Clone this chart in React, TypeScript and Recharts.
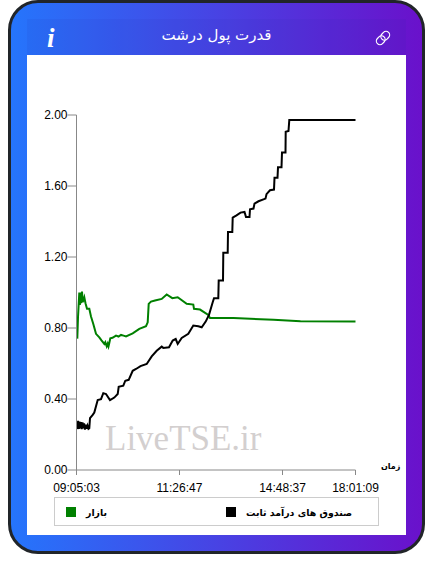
import React from "react";
import { LineChart, Line, XAxis, YAxis, Legend } from "recharts";

const title = "قدرت پول درشت";
const xAxisTitle = "زمان";
const watermark = "LiveTSE.ir";
const marketName = "بازار";
const fundName = "صندوق های درآمد ثابت";

// x axis is sample index, the time labels are not evenly spaced in time
const tickIndexes = [0, 103, 206, 279];
const tickTimes = ["09:05:03", "11:26:47", "14:48:37", "18:01:09"];
const yTicks = [0, 0.4, 0.8, 1.2, 1.6, 2];

const marketIndex = [0.8, 1.5, 2.8, 3.4, 4, 4.6, 5.5, 6.2, 6.8, 7.8, 9, 10.5, 12.8, 14.5, 16.8, 19.5, 22.8, 25, 27.8, 28.8, 30.2, 31.2, 32, 32.8, 33.8, 36, 39.5, 42, 44.5, 47, 49.5, 56.2, 62.8, 69.5, 71.2, 72.2, 74.5, 78.5, 85.2, 90.2, 95.8, 101.2, 110.2, 116.8, 117.5, 123.5, 131.8, 133.5, 143.5, 157, 197, 224, 279];
const marketValues = [0.74, 0.86, 1.0, 0.93, 1.0, 0.94, 1.005, 0.945, 0.955, 0.973, 0.94, 0.908, 0.908, 0.865, 0.823, 0.767, 0.747, 0.73, 0.71, 0.72, 0.697, 0.712, 0.697, 0.716, 0.742, 0.745, 0.757, 0.752, 0.761, 0.757, 0.753, 0.77, 0.795, 0.81, 0.832, 0.936, 0.949, 0.955, 0.964, 0.989, 0.968, 0.973, 0.936, 0.932, 0.908, 0.904, 0.874, 0.857, 0.857, 0.857, 0.846, 0.838, 0.836];

const fundIndex = [1, 1.6, 2.4, 3, 3.8, 4.5, 5.2, 6, 6.8, 7.6, 8.4, 9.2, 10, 11, 12, 12.8, 13.5, 16.2, 17.8, 21.2, 24.5, 26.8, 29.5, 33.5, 37.8, 41.2, 42.2, 46.8, 48.8, 52.2, 56.2, 59.5, 64, 70.2, 75.2, 80.2, 85.2, 86.8, 92.5, 96.2, 99.2, 101.2, 105.2, 111.8, 116.8, 121.8, 125.2, 129.2, 132.5, 136.2, 137.5, 141.8, 142.2, 146.5, 146.8, 151.2, 151.5, 155.8, 156.2, 160, 164, 168, 169.5, 173, 173.5, 177, 178, 182, 189, 190, 193.5, 197.5, 198, 201, 201.5, 205, 205.5, 209, 209.2, 212, 212.8, 279];
const fundValues = [0.23, 0.277, 0.232, 0.272, 0.235, 0.27, 0.23, 0.268, 0.235, 0.262, 0.228, 0.255, 0.232, 0.25, 0.232, 0.235, 0.292, 0.311, 0.324, 0.394, 0.399, 0.433, 0.428, 0.394, 0.408, 0.428, 0.469, 0.475, 0.503, 0.508, 0.559, 0.569, 0.585, 0.597, 0.64, 0.672, 0.695, 0.688, 0.691, 0.729, 0.738, 0.71, 0.744, 0.767, 0.814, 0.81, 0.804, 0.836, 0.874, 0.945, 0.968, 0.968, 1.068, 1.068, 1.224, 1.224, 1.341, 1.341, 1.422, 1.435, 1.45, 1.454, 1.425, 1.425, 1.469, 1.473, 1.501, 1.514, 1.529, 1.554, 1.576, 1.58, 1.646, 1.646, 1.705, 1.705, 1.789, 1.789, 1.906, 1.91, 1.972, 1.972];

const marketData = marketIndex.map((index, i) => ({ index, value: marketValues[i] }));
const fundData = fundIndex.map((index, i) => ({ index, value: fundValues[i] }));

const axisColor = "#888888";
const labelFont = "'Liberation Sans', Arial, sans-serif";
const persianFont = "'DejaVu Sans', sans-serif";

const ChartLegend = () => (
  <div
    style={{
      boxSizing: "border-box",
      width: 325,
      height: 29,
      border: "1px solid #cccccc",
      position: "relative",
      fontFamily: persianFont,
      fontSize: 9.4,
      fontWeight: "bold",
      color: "#000",
    }}
  >
    <span style={{ position: "absolute", left: 11, top: 9, width: 10, height: 10, background: "green" }} />
    <span style={{ position: "absolute", left: 31, top: 8, lineHeight: "14px" }}>{marketName}</span>
    <span style={{ position: "absolute", left: 171, top: 9, width: 10, height: 10, background: "#000" }} />
    <span style={{ position: "absolute", left: 191, top: 8, lineHeight: "14px", whiteSpace: "nowrap" }}>{fundName}</span>
  </div>
);

const LinkIcon = () => (
  <svg width="18" height="18" viewBox="0 0 24 24" fill="none" stroke="#fff" strokeWidth="1.6" style={{ position: "absolute", left: 374, top: 29 }}>
    <g transform="rotate(-45 12 12)">
      <rect x="1.5" y="7.2" width="12.5" height="9.6" rx="4.8" />
      <rect x="10" y="7.2" width="12.5" height="9.6" rx="4.8" />
    </g>
  </svg>
);

export default function App() {
  return (
    <div style={{ position: "absolute", left: 0, top: 0, width: 433, height: 574, background: "#fff", overflow: "hidden" }}>
      <div
        style={{
          position: "absolute",
          left: 8,
          top: 0,
          width: 417,
          height: 554,
          boxSizing: "border-box",
          border: "3px solid #212529",
          borderRadius: 30,
          background: "linear-gradient(to right, #2575fc, #6a11cb)",
        }}
      />
      <div style={{ position: "absolute", left: 27, top: 19, width: 379, height: 36, background: "rgba(40,40,160,0.08)" }} />
      <div style={{ position: "absolute", left: 27, top: 55, width: 379, height: 480, background: "#fff" }} />

      <div style={{ position: "absolute", left: 47, top: 23, color: "#fff", fontFamily: "'Liberation Serif', serif", fontStyle: "italic", fontWeight: "bold", fontSize: 27, lineHeight: "30px" }}>i</div>
      <div style={{ position: "absolute", left: 27, top: 24, width: 379, textAlign: "center", color: "#fff", fontFamily: persianFont, fontSize: 15, lineHeight: "22px" }}>{title}</div>
      <LinkIcon />

      <div style={{ position: "absolute", left: 105, top: 417, color: "#d3cfcf", fontFamily: "'Liberation Serif', serif", fontSize: 35, lineHeight: "44px" }}>{watermark}</div>
      <div style={{ position: "absolute", left: 381, top: 461, color: "#000", fontFamily: persianFont, fontWeight: "bold", fontSize: 8, lineHeight: "12px" }}>{xAxisTitle}</div>

      <LineChart
        width={433}
        height={574}
        margin={{ top: 115, right: 77.5, bottom: 48, left: 0 }}
        style={{ position: "absolute", left: 0, top: 0 }}
      >
        <XAxis
          dataKey="index"
          type="number"
          domain={[0, 279]}
          ticks={tickIndexes}
          tickFormatter={(v: number) => tickTimes[tickIndexes.indexOf(v)]}
          allowDuplicatedCategory={false}
          interval={0}
          height={27}
          stroke={axisColor}
          tick={{ fill: "#000", fontSize: 12, fontFamily: labelFont }}
          tickSize={5}
          tickMargin={8}
        />
        <YAxis
          type="number"
          domain={[0, 2]}
          ticks={yTicks}
          tickFormatter={(v: number) => v.toFixed(2)}
          interval={0}
          width={76.5}
          stroke={axisColor}
          tick={{ fill: "#000", fontSize: 12, fontFamily: labelFont }}
          tickSize={9}
          tickMargin={0}
        />
        <Legend
          verticalAlign="bottom"
          height={29}
          wrapperStyle={{ left: 54, width: 325, bottom: 48 }}
          content={() => <ChartLegend />}
        />
        <Line data={marketData} dataKey="value" name={marketName} type="linear" stroke="green" strokeWidth={2} dot={false} isAnimationActive={false} />
        <Line data={fundData} dataKey="value" name={fundName} type="linear" stroke="#000" strokeWidth={2} dot={false} isAnimationActive={false} />
      </LineChart>
    </div>
  );
}
